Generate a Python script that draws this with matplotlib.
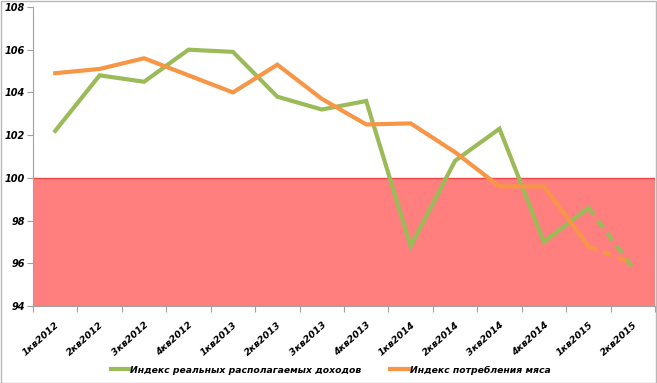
import numpy as np
import matplotlib
matplotlib.use("Agg")
from matplotlib import pyplot as plt
from matplotlib.patches import Rectangle

quarters = ['1кв2012', '2кв2012', '3кв2012', '4кв2012',
            '1кв2013', '2кв2013', '3кв2013', '4кв2013',
            '1кв2014', '2кв2014', '3кв2014', '4кв2014',
            '1кв2015', '2кв2015']
income = [102.2, 104.8, 104.5, 106.0, 105.9, 103.8, 103.2, 103.6,
          96.8, 100.8, 102.3, 97.0, 98.6, 95.8]
meat = [104.9, 105.1, 105.6, 104.8, 104.0, 105.3, 103.7, 102.5,
        102.55, 101.2, 99.6, 99.6, 96.8, 96.0]
names = ['Индекс реальных располагаемых доходов', 'Индекс потребления мяса']
colors = ['#9BBB59', '#F79646']

fig = plt.figure(figsize=(6.57, 3.83), dpi=100)
ax = fig.add_axes([33 / 657, 77 / 383, 622 / 657, 299 / 383])

x = np.arange(len(quarters))

# red zone below 100
ax.axhspan(94, 100, color='#FF7F7F', lw=0, zorder=0)
ax.axhline(100, color='#F04848', lw=1, zorder=1)

handles = []
for vals, col, name in zip([income, meat], colors, names):
    h, = ax.plot(x[:-1], vals[:-1], color=col, lw=3, solid_joinstyle='miter', label=name, zorder=3)
    # last quarter is an estimate -> dashed
    ax.plot(x[-2:], vals[-2:], color=col, lw=3, dashes=(2.2, 1.6), zorder=3)
    handles.append(h)

ax.set_xlim(-0.5, len(quarters) - 0.5)
ax.set_ylim(94, 108)
ax.set_yticks(np.arange(94, 109, 2))
ax.set_xticks(np.arange(-0.5, len(quarters), 1), minor=False)
ax.set_xticklabels([])
ax.set_xticks(x, minor=True)
ax.set_xticklabels(quarters, minor=True, rotation=42, ha='right', va='top',
                   rotation_mode='anchor', fontsize=6.8, fontweight='bold', fontstyle='italic')
ax.tick_params(axis='x', which='minor', length=0, pad=10)
ax.tick_params(axis='x', which='major', length=4, color='#A0A0A0')
ax.tick_params(axis='y', length=4, color='#A0A0A0', pad=2)
for lab in ax.get_yticklabels():
    lab.set_fontsize(7)
    lab.set_fontweight('bold')
    lab.set_fontstyle('italic')

for s in ['top', 'right']:
    ax.spines[s].set_visible(False)
for s in ['left', 'bottom']:
    ax.spines[s].set_color('#A0A0A0')

fig.legend(handles=handles, loc='center', bbox_to_anchor=(0.503, 13 / 383), ncol=2, frameon=False,
           prop={'size': 6.7, 'weight': 'bold', 'style': 'italic'}, handlelength=2.0,
           handletextpad=0.1, columnspacing=3.1)

fig.patches.append(Rectangle((0.5 / 657, 0.5 / 383), 655.5 / 657, 381.5 / 383, transform=fig.transFigure,
                             fill=False, edgecolor='#B8B8B8', lw=1))

fig.savefig('out.png', dpi=100)
